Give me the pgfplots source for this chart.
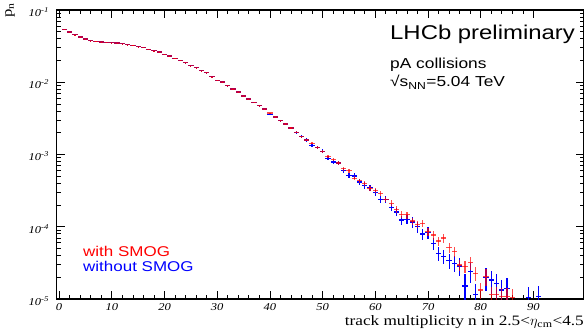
\documentclass[border=0pt]{standalone}
\usepackage{pgfplots}
\pgfplotsset{compat=1.18}
\usepackage{pgfplotstable}
\usepackage{fontspec}
\setmainfont{Liberation Serif}[FakeStretch=1.2]
\newfontfamily\hv{Liberation Sans}[FakeStretch=1.2]

\pgfplotstableread{
n p e
1 0.0541 0.004
2 0.0497 0.004
3 0.0455 0.004
4 0.0422 0.004
5 0.0397 0.004
6 0.0376 0.004
7 0.0369 0.004
8 0.0361 0.004
9 0.0357 0.004
10 0.0352 0.004
11 0.0349 0.004
12 0.0342 0.004
13 0.0331 0.004
14 0.0325 0.004
15 0.0310 0.004
16 0.0305 0.004
17 0.0286 0.004
18 0.0273 0.004
19 0.0262 0.004
20 0.0244 0.004
21 0.0231 0.004
22 0.0214 0.004
23 0.0201 0.004
24 0.0187 0.005
25 0.0169 0.005
26 0.0159 0.005
27 0.0144 0.005
28 0.0136 0.006
29 0.0119 0.006
30 0.0107 0.007
31 0.0101 0.007
32 0.00895 0.008
33 0.00806 0.008
34 0.00733 0.009
35 0.00645 0.010
36 0.00587 0.011
37 0.00527 0.012
38 0.00473 0.013
39 0.00426 0.015
40 0.00375 0.017
41 0.00331 0.019
42 0.00294 0.021
43 0.00264 0.023
44 0.00233 0.025
45 0.00203 0.028
46 0.00176 0.031
47 0.00159 0.034
48 0.00143 0.037
49 0.00126 0.040
50 0.00111 0.043
51 0.000933 0.046
52 0.000847 0.050
53 0.000762 0.054
54 0.000636 0.058
55 0.000597 0.062
56 0.000469 0.066
57 0.000434 0.070
58 0.000394 0.074
59 0.000340 0.078
60 0.000315 0.082
61 0.000290 0.086
62 0.000240 0.090
63 0.000211 0.095
64 0.000174 0.100
65 0.000149 0.105
66 0.000146 0.110
67 0.000120 0.115
68 0.000108 0.120
69 0.000112 0.125
70 0.0000855 0.130
71 0.0000769 0.135
72 0.0000635 0.140
73 0.0000698 0.145
74 0.0000513 0.150
75 0.0000451 0.160
76 0.0000296 0.180
77 0.0000280 0.190
78 0.0000319 0.200
79 0.0000226 0.220
80 0.0000133 0.250
81 0.0000204 0.260
82 0.0000114 0.300
83 0.0000114 0.300
84 0.0000108 0.320
85 0.0000108 0.320
86 0.0000105 0.330
}\withsmog

\pgfplotstableread{
n p e
1 0.0541 0.006
2 0.0497 0.006
3 0.0455 0.006
4 0.0422 0.006
5 0.0397 0.006
6 0.0376 0.006
7 0.0369 0.006
8 0.0361 0.006
9 0.0357 0.006
10 0.0352 0.006
11 0.0349 0.006
12 0.0342 0.006
13 0.0331 0.006
14 0.0325 0.006
15 0.0310 0.006
16 0.0305 0.006
17 0.0286 0.006
18 0.0273 0.006
19 0.0262 0.006
20 0.0244 0.006
21 0.0231 0.006
22 0.0214 0.006
23 0.0201 0.006
24 0.0187 0.007
25 0.0169 0.007
26 0.0159 0.007
27 0.0144 0.008
28 0.0136 0.008
29 0.0119 0.009
30 0.0107 0.010
31 0.0101 0.010
32 0.00895 0.011
33 0.00806 0.012
34 0.00733 0.013
35 0.00645 0.014
36 0.00587 0.016
37 0.00527 0.018
38 0.00473 0.020
39 0.00426 0.022
40 0.00360 0.025
41 0.00331 0.028
42 0.00294 0.031
43 0.00264 0.034
44 0.00233 0.037
45 0.00203 0.041
46 0.00176 0.045
47 0.00159 0.049
48 0.00134 0.053
49 0.00126 0.057
50 0.00111 0.061
51 0.000886 0.065
52 0.000787 0.070
53 0.000762 0.075
54 0.000604 0.080
55 0.000515 0.085
56 0.000504 0.090
57 0.000416 0.095
58 0.000375 0.100
59 0.000345 0.105
60 0.000300 0.110
61 0.000240 0.115
62 0.000240 0.120
63 0.000186 0.125
64 0.000160 0.130
65 0.000124 0.140
66 0.000127 0.150
67 0.000116 0.160
68 0.000100 0.170
69 0.0000794 0.180
70 0.0000828 0.190
71 0.0000590 0.200
72 0.0000430 0.210
73 0.0000386 0.220
74 0.0000339 0.230
75 0.0000312 0.250
76 0.0000287 0.270
77 0.0000151 0.450
78 0.0000239 0.300
79 0.0000114 0.400
81 0.0000200 0.350
82 0.0000183 0.350
83 0.0000162 0.380
84 0.0000133 0.400
85 0.0000141 0.400
89 0.0000105 0.400
91 0.0000107 0.400
}\withoutsmog

\begin{document}
\begin{tikzpicture}
\path[use as bounding box] (0,0) rectangle (584bp,330bp);
\begin{axis}[
  at={(56.5bp,31bp)}, anchor=south west,
  scale only axis, width=527bp, height=289bp,
  xmin=-0.5, xmax=99.5, ymin=1e-5, ymax=1e-1,
  ymode=log, log basis y=10,
  xtick={0,10,20,30,40,50,60,70,80,90},
  xticklabels={0,10,20,30,40,50,60,70,80,90},
  minor x tick num=4,
  ytick={1e-5,1e-4,1e-3,1e-2,1e-1},
  yticklabels={10\textsuperscript{-5},10\textsuperscript{-4},10\textsuperscript{-3},10\textsuperscript{-2},10\textsuperscript{-1}},
  minor ytick={2e-5,3e-5,4e-5,5e-5,6e-5,7e-5,8e-5,9e-5,
               2e-4,3e-4,4e-4,5e-4,6e-4,7e-4,8e-4,9e-4,
               2e-3,3e-3,4e-3,5e-3,6e-3,7e-3,8e-3,9e-3,
               2e-2,3e-2,4e-2,5e-2,6e-2,7e-2,8e-2,9e-2},
  tick align=inside,
  major tick length=8bp, minor tick length=4bp,
  axis line style={line width=1.3bp},
  every tick/.style={black, line width=0.8bp},
  ticklabel style={font=\itshape\fontsize{10.5}{12}\selectfont},
  xticklabel style={yshift=-1.5bp},
  yticklabel style={xshift=-4bp, yshift=-2bp},
]
\addplot[draw=none, no markers,
  error bars/.cd, x dir=both, x fixed=0.5, y dir=both, y explicit relative,
  error mark=none, error bar style={draw=blue, line width=1.2bp}]
  table[x=n, y=p, y error=e] {\withoutsmog};
\addplot[draw=none, no markers,
  error bars/.cd, x dir=both, x fixed=0.5, y dir=both, y explicit relative,
  error mark=none, error bar style={draw=red, opacity=0.7, line width=1.2bp}]
  table[x=n, y=p, y error=e] {\withsmog};
\end{axis}
\node[rotate=90, anchor=east, font=\fontsize{14}{14}\selectfont, inner sep=0pt] at (10bp,327bp) {p\textsubscript{n}};
\node[anchor=base east, font=\fontsize{14.4}{14.4}\selectfont, inner sep=0pt] at (584bp,4.5bp) {track multiplicity n in 2.5<$\eta$\textsubscript{cm}<4.5};
\node[anchor=base west, font=\hv\fontsize{20}{20}\selectfont, inner sep=0pt] at (390bp,290bp) {LHCb preliminary};
\node[anchor=base west, font=\hv\fontsize{14.5}{14.5}\selectfont, inner sep=0pt] at (390bp,261bp) {pA collisions};
\node[anchor=base west, font=\hv\fontsize{14.5}{14.5}\selectfont, inner sep=0pt] at (390bp,243bp) {√s\textsubscript{NN}=5.04 TeV};
\node[anchor=base west, font=\hv\fontsize{14.2}{14.2}\selectfont, inner sep=0pt, text=red] at (83bp,73bp) {with SMOG};
\node[anchor=base west, font=\hv\fontsize{14.2}{14.2}\selectfont, inner sep=0pt, text=blue] at (83bp,58bp) {without SMOG};
\end{tikzpicture}
\end{document}
